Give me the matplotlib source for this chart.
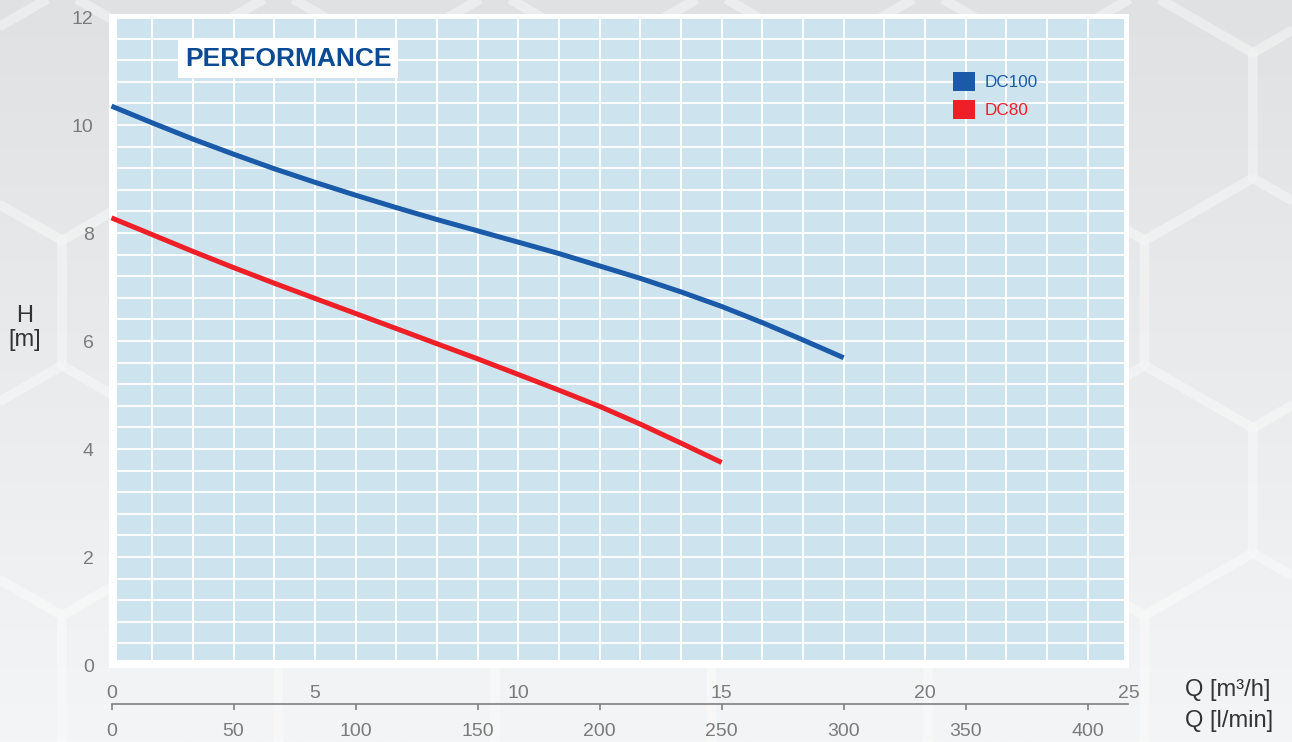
import numpy as np
import matplotlib.pyplot as plt
from matplotlib.patches import Rectangle, Patch
from matplotlib.collections import LineCollection

plt.rcParams['font.family'] = ['Liberation Sans', 'DejaVu Sans']

# curve data, Q in l/min, H in m
q_dc100 = [0, 16.7, 33.3, 50, 66.7, 83.3, 100, 116.7, 133.3, 150, 166.7, 183.3,
           200, 216.7, 233.3, 250, 266.7, 283.3, 300]
h_dc100 = [10.35, 10.04, 9.74, 9.46, 9.19, 8.94, 8.70, 8.47, 8.25, 8.04, 7.83, 7.62,
           7.39, 7.16, 6.91, 6.64, 6.34, 6.02, 5.69]
q_dc80 = [0, 16.7, 33.3, 50, 66.7, 83.3, 100, 116.7, 133.3, 150, 166.7, 183.3,
          200, 216.7, 233.3, 250]
h_dc80 = [8.28, 7.97, 7.66, 7.36, 7.07, 6.79, 6.51, 6.23, 5.95, 5.67, 5.38, 5.09,
          4.79, 4.46, 4.11, 3.75]

series = ['DC100', 'DC80']
colors = ['#1a5aa8', '#ee1f26']
lmin_ticks = [0, 50, 100, 150, 200, 250, 300, 350, 400]
m3h_ticks = [0, 5, 10, 15, 20, 25]
h_ticks = [0, 2, 4, 6, 8, 10, 12]
LMIN_PER_M3H = 1000 / 60

W, H = 1292, 742
fig = plt.figure(figsize=(W / 100, H / 100), dpi=100)

def fx(px):
    return px / W

def fy(py):
    return 1 - py / H

# background gradient + honeycomb
bg = fig.add_axes([0, 0, 1, 1], zorder=-10)
grad = np.linspace(0, 1, 256)[:, None]
c_top = np.array([0xe0, 0xe1, 0xe3]) / 255
c_bot = np.array([0xf4, 0xf5, 0xf6]) / 255
img = c_top[None, None, :] * (1 - grad[:, :, None]) + c_bot[None, None, :] * grad[:, :, None]
bg.imshow(np.repeat(img, 2, axis=1), extent=[0, W, H, 0], aspect='auto')
s = 125
dx = np.sqrt(3) * s
segs = []
for r in range(-2, 6):
    cy = 303 + 1.5 * s * r
    x0 = 170.25 if r % 2 == 0 else 62
    for k in range(-2, 8):
        cx = x0 + k * dx
        ang = np.radians(90 + 60 * np.arange(7))
        segs.append(np.column_stack([cx + s * np.cos(ang), cy - s * np.sin(ang)]))
bg.add_collection(LineCollection(segs, colors='white', alpha=0.22, linewidths=7))
bg.set_xlim(0, W)
bg.set_ylim(H, 0)
bg.axis('off')

# main chart
px0, ppl = 111.5, 2.4405   # x pixel of Q=0, pixels per l/min
py0, ppm = 665, 54.0       # y pixel of H=0, pixels per m
ax = fig.add_axes([fx(109), fy(668), (1129 - 109) / W, (668 - 14) / H])
ax.set_facecolor('white')
xlim = ((109 - px0) / ppl, (1129 - px0) / ppl)
ax.set_xlim(*xlim)
ax.set_ylim((py0 - 668) / ppm, (py0 - 14) / ppm)
for sp in ax.spines.values():
    sp.set_visible(False)

bx0, bx1 = (117 - px0) / ppl, (1124 - px0) / ppl
by0, by1 = (py0 - 660) / ppm, (py0 - 19) / ppm
ax.add_patch(Rectangle((bx0, by0), bx1 - bx0, by1 - by0, facecolor='#cde4ef',
                       edgecolor='none', zorder=0))
ax.hlines(np.arange(0.4, 11.7, 0.4), bx0, bx1, colors='white', linewidth=1.3, zorder=1)
ax.vlines(np.arange(1, 25) * LMIN_PER_M3H, by0, by1, colors='white', linewidth=1.3, zorder=1)

ax.plot(q_dc100, h_dc100, color=colors[0], lw=3.6, solid_capstyle='butt',
        solid_joinstyle='round', zorder=3)
ax.plot(q_dc80, h_dc80, color=colors[1], lw=3.6, solid_capstyle='butt',
        solid_joinstyle='round', zorder=3)

ax.set_xticks([])
ax.set_yticks(h_ticks)
ax.tick_params(axis='y', length=0, pad=11, labelsize=14, labelcolor='#7b7b7b')

ax.text((185 - px0) / ppl, (py0 - 59) / ppm, 'PERFORMANCE', fontsize=19,
        fontweight='bold', color='#0a4b94', ha='left', va='center', zorder=4,
        bbox=dict(boxstyle='square,pad=0.26', fc='white', ec='none'))

handles = [Patch(facecolor=c, edgecolor='none') for c in colors]
leg = ax.legend(handles, series, loc='upper left', bbox_to_anchor=(fx(953), fy(72)),
                bbox_transform=fig.transFigure, frameon=False, fontsize=12.3,
                handlelength=1.3, handleheight=1.3, handletextpad=0.55,
                labelspacing=0.55, borderpad=0, borderaxespad=0)
for t, c in zip(leg.get_texts(), colors):
    t.set_color(c)

# bottom double axis
axb = fig.add_axes([fx(109), fy(704), (1129 - 109) / W, 0.0005])
axb.patch.set_visible(False)
axb.set_xlim(*xlim)
axb.set_yticks([])
for name, sp in axb.spines.items():
    sp.set_visible(name == 'bottom')
axb.spines['bottom'].set_color('#808080')
axb.spines['bottom'].set_linewidth(1.2)
axb.spines['bottom'].set_bounds(0, 25 * LMIN_PER_M3H)
axb.set_xticks(lmin_ticks)
axb.tick_params(axis='x', direction='out', length=4.5, width=1.2, color='#808080',
                pad=9, labelsize=14, labelcolor='#7b7b7b')

ax2 = axb.twiny()
ax2.patch.set_visible(False)
ax2.set_xlim(xlim[0] / LMIN_PER_M3H, xlim[1] / LMIN_PER_M3H)
ax2.set_xticks(m3h_ticks)
ax2.tick_params(axis='x', length=0, pad=1, labelsize=14, labelcolor='#7b7b7b')
for sp in ax2.spines.values():
    sp.set_visible(False)

fig.text(fx(25), fy(328), 'H\n[m]', ha='center', va='center', fontsize=17,
         color='#333333', linespacing=1.15)
fig.text(fx(1185), fy(690), 'Q [m³/h]', ha='left', va='center', fontsize=17, color='#333333')
fig.text(fx(1185), fy(721), 'Q [l/min]', ha='left', va='center', fontsize=17, color='#333333')

fig.savefig('out.png', dpi=100)
